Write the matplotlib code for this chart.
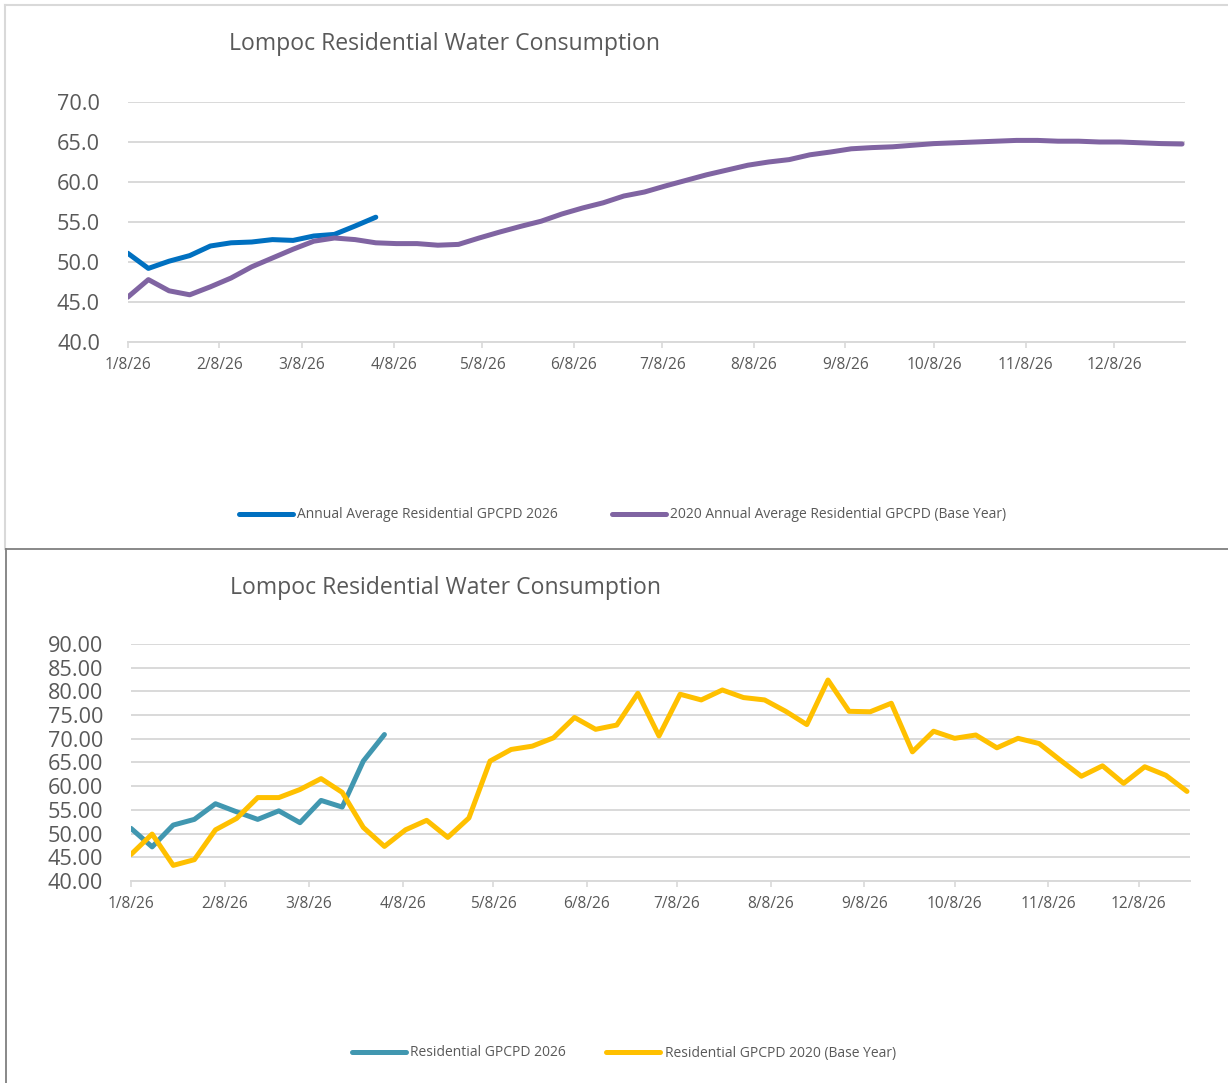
import pandas as pd
import numpy as np
import matplotlib
matplotlib.use("Agg")
import matplotlib.pyplot as plt
import matplotlib.dates as mdates
from matplotlib.ticker import FuncFormatter
from matplotlib.lines import Line2D

plt.rcParams["font.family"] = ["Open Sans", "DejaVu Sans"]

title = "Lompoc Residential Water Consumption"

# weekly values, starting 1/8/26
avg_2026 = [51.1, 49.2, 50.1, 50.8, 52.0, 52.4, 52.5, 52.8, 52.7, 53.25, 53.45, 54.5, 55.6]
avg_2020 = [45.6, 47.8, 46.4, 45.9, 46.9, 48.0, 49.4, 50.5, 51.6, 52.6,
            53.0, 52.8, 52.4, 52.3, 52.3, 52.1, 52.2, 53.0, 53.75, 54.45,
            55.1, 56.0, 56.75, 57.4, 58.25, 58.75, 59.5, 60.2, 60.9, 61.5,
            62.1, 62.5, 62.8, 63.4, 63.75, 64.15, 64.3, 64.4, 64.6, 64.8,
            64.9, 65.0, 65.1, 65.2, 65.2, 65.1, 65.1, 65.0, 65.0, 64.9,
            64.8, 64.75]
res_2026 = [51.1, 47.2, 51.8, 53.0, 56.3, 54.6, 53.0, 54.8, 52.3, 57.0, 55.6, 65.3, 70.9]
res_2020 = [45.6, 49.9, 43.3, 44.5, 50.8, 53.2, 57.6, 57.6, 59.3, 61.6,
            58.7, 51.3, 47.3, 50.8, 52.8, 49.2, 53.3, 65.3, 67.75, 68.45,
            70.2, 74.5, 72.0, 72.9, 79.6, 70.6, 79.4, 78.2, 80.3, 78.7,
            78.2, 75.8, 73.0, 82.4, 75.8, 75.7, 77.5, 67.25, 71.6, 70.1,
            70.8, 68.1, 70.1, 69.0, 65.5, 62.1, 64.3, 60.6, 64.1, 62.3,
            58.9]

legend_top = ["Annual Average Residential GPCPD 2026", "2020 Annual Average Residential GPCPD (Base Year)"]
legend_bottom = ["Residential GPCPD 2026", "Residential GPCPD 2020 (Base Year)"]

start = pd.Timestamp("2026-01-08")
tick_dates = pd.date_range("2026-01-08", periods=12, freq=pd.DateOffset(months=1))

grid_c = "#d9d9d9"
text_c = "#595959"


def weeks(n):
    return pd.date_range(start, periods=n, freq="7D")


def date_fmt(x, pos):
    d = mdates.num2date(x)
    return f"{d.month}/{d.day}/{d.strftime('%y')}"


def style_axis(ax, ylo, yhi, ystep, xend, ydec):
    ax.set_ylim(ylo, yhi)
    ax.set_yticks(np.arange(ylo, yhi + 0.1, ystep))
    ax.yaxis.set_major_formatter(FuncFormatter(lambda v, p: f"{v:.{ydec}f}"))
    ax.set_xlim(start, pd.Timestamp(xend))
    ax.set_xticks(tick_dates)
    ax.xaxis.set_major_formatter(FuncFormatter(date_fmt))
    ax.grid(axis="y", color=grid_c, lw=1.4)
    ax.set_axisbelow(True)
    for s in ["top", "right", "left"]:
        ax.spines[s].set_visible(False)
    ax.spines["bottom"].set_color(grid_c)
    ax.spines["bottom"].set_linewidth(1.4)
    ax.tick_params(axis="y", length=0, pad=20, labelsize=15.6, labelcolor=text_c)
    ax.tick_params(axis="x", length=4, width=1.2, color=grid_c, pad=7,
                   labelsize=11.2, labelcolor=text_c)


fig = plt.figure(figsize=(12.28, 10.83), dpi=100)

# panel borders
fig.add_artist(Line2D([5 / 1228, 5 / 1228], [1 - 5 / 1083, 1 - 549 / 1083], color=grid_c, lw=1.5))
fig.add_artist(Line2D([5 / 1228, 1], [1 - 5 / 1083, 1 - 5 / 1083], color=grid_c, lw=1.5))
fig.add_artist(Line2D([6 / 1228, 6 / 1228], [1 - 549 / 1083, 0], color="#7f7f7f", lw=1.3))
fig.add_artist(Line2D([6 / 1228, 1], [1 - 549 / 1083, 1 - 549 / 1083], color="#7f7f7f", lw=1.3))

# top chart
ax1 = fig.add_axes([127.7 / 1228, 1 - 342 / 1083, (1185 - 127.7) / 1228, 240 / 1083])
ax1.plot(weeks(len(avg_2026)), avg_2026, color="#0070C0", lw=3.6,
         solid_capstyle="round", solid_joinstyle="round", label=legend_top[0])
ax1.plot(weeks(len(avg_2020)), avg_2020, color="#8064A2", lw=3.6,
         solid_capstyle="round", solid_joinstyle="round", label=legend_top[1])
style_axis(ax1, 40, 70, 5, "2027-01-01", 1)
fig.text(229 / 1228, 1 - 50 / 1083, title, fontsize=16.6, color=text_c, ha="left", va="baseline")
fig.legend(*ax1.get_legend_handles_labels(), loc="center", bbox_to_anchor=(0.507, 1 - 515 / 1083),
           ncol=2, frameon=False, fontsize=10, labelcolor=text_c, handlelength=3.9,
           handletextpad=0.3, columnspacing=3.9)

# bottom chart
ax2 = fig.add_axes([131 / 1228, 1 - 881 / 1083, (1190 - 131) / 1228, 237 / 1083])
ax2.plot(weeks(len(res_2026)), res_2026, color="#4197B0", lw=3.6,
         solid_capstyle="round", solid_joinstyle="round", label=legend_bottom[0])
ax2.plot(weeks(len(res_2020)), res_2020, color="#FFC000", lw=3.6,
         solid_capstyle="round", solid_joinstyle="round", label=legend_bottom[1])
style_axis(ax2, 40, 90, 5, "2026-12-25", 2)
fig.text(230 / 1228, 1 - 594 / 1083, title, fontsize=16.6, color=text_c, ha="left", va="baseline")
fig.legend(*ax2.get_legend_handles_labels(), loc="center", bbox_to_anchor=(0.508, 1 - 1053 / 1083),
           ncol=2, frameon=False, fontsize=10, labelcolor=text_c, handlelength=3.9,
           handletextpad=0.3, columnspacing=2.9)

fig.savefig("out.png", dpi=100)
